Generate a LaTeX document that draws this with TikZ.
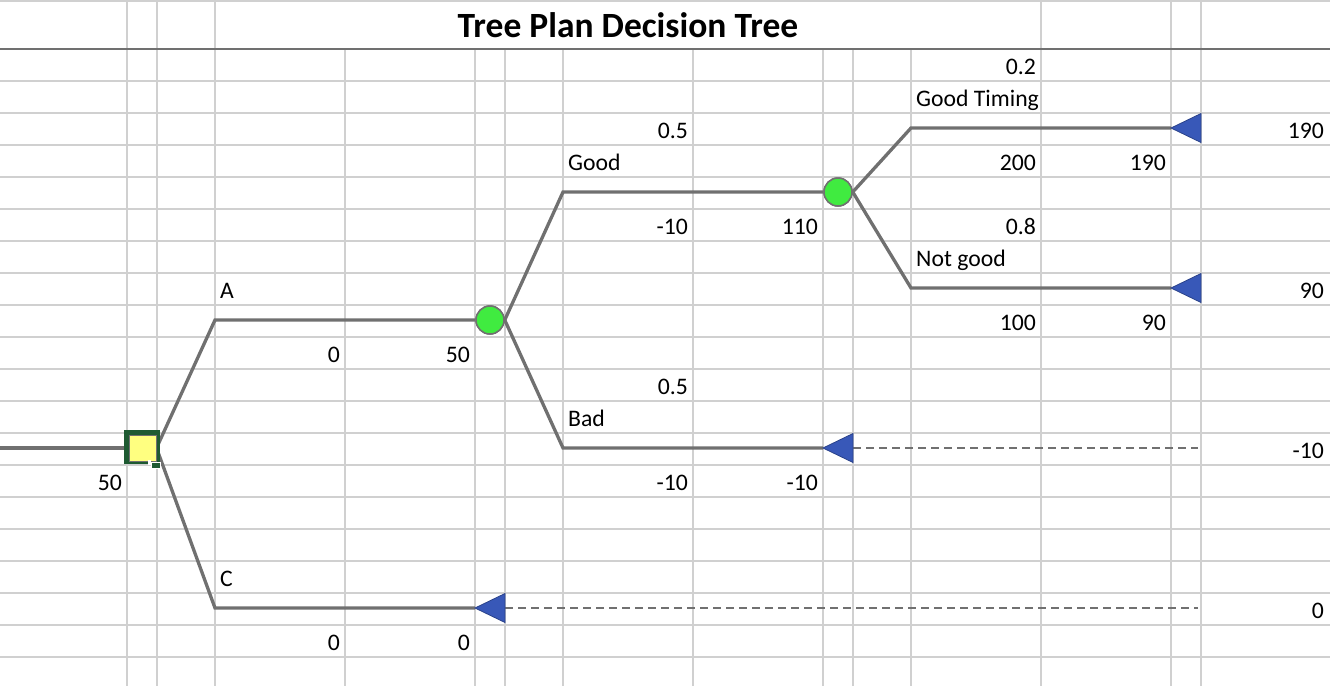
\documentclass[tikz,border=0pt]{standalone}
\usepackage{fontspec}
\setmainfont{Carlito}
\usepackage{tikz}
\definecolor{gridgray}{RGB}{208,208,208}
\definecolor{branchgray}{RGB}{112,112,112}
\definecolor{chancegreen}{RGB}{64,235,64}
\definecolor{termblue}{RGB}{56,88,184}
\definecolor{selgreen}{RGB}{30,90,50}
\definecolor{decyellow}{RGB}{255,255,128}
\tikzstyle{grid line}=[gridgray, line width=1.2pt]
\tikzstyle{title rule}=[branchgray, line width=2pt]
\tikzstyle{branch}=[branchgray, line width=3.3pt]
\tikzstyle{cutoff}=[branchgray, line width=1.8pt, dash pattern=on 8pt off 5pt]
\tikzstyle{chance}=[circle, draw=branchgray, line width=1.5pt, fill=chancegreen, minimum size=28pt, inner sep=0pt]
\tikzstyle{decision}=[rectangle, draw=branchgray, line width=1pt, fill=decyellow, minimum width=27pt, minimum height=26pt, inner sep=0pt]
\tikzstyle{terminal}=[fill=termblue, draw=termblue!75!black, line width=0.8pt]
\tikzstyle{num}=[font=\fontsize{23.7}{28}\selectfont, inner sep=0pt, anchor=base east]
\tikzstyle{lbl}=[font=\fontsize{23.7}{28}\selectfont, inner sep=0pt, anchor=base west]

\begin{document}
\begin{tikzpicture}[x=1pt, y=-1pt]
        \useasboundingbox (0,0) rectangle (1330,686);
        % sheet grid
        \draw[grid line] (0,1) -- (1330,1);
        \foreach \y in {81,113,...,657} \draw[grid line] (0,\y) -- (1330,\y);
        \foreach \x in {345,475,505,563,693,823,853,911} \draw[grid line] (\x,49) -- (\x,686);
        \foreach \x in {127,157,215,1041,1171,1201} \draw[grid line] (\x,1) -- (\x,686);
        \draw[title rule] (0,49) -- (1330,49);
        \node[font=\fontsize{35.5}{40}\selectfont\bfseries, anchor=base, inner sep=0pt] (title) at (628,37) {Tree Plan Decision Tree};

        % nodes of the tree
        \node[decision] (dec) at (142.5,448) {};
        \node[chance] (ch1) at (490,320) {};
        \node[chance] (ch2) at (838,192) {};
        \coordinate (entry) at (0,448);
        \coordinate (A) at (215,320);
        \coordinate (C) at (215,608);
        \coordinate (good) at (563,192);
        \coordinate (bad) at (563,448);
        \coordinate (goodtiming) at (911,128);
        \coordinate (notgood) at (911,288);
        \coordinate (tgt) at (1171,128);
        \coordinate (tng) at (1171,288);
        \coordinate (tbad) at (823,448);
        \coordinate (tC) at (475,608);
        \coordinate (tbadback) at (853,448);
        \coordinate (tCback) at (505,608);
        \coordinate (endbad) at (1198,448);
        \coordinate (endC) at (1198,608);

        % branches
        \draw[branch] (entry) -- (dec.west);
        \draw[branch] (dec.east) -- (A) -- (ch1.west);
        \draw[branch] (dec.east) -- (C) -- (tC);
        \draw[branch] (ch1.east) -- (good) -- (ch2.west);
        \draw[branch] (ch1.east) -- (bad) -- (tbad);
        \draw[branch] (ch2.east) -- (goodtiming) -- (tgt);
        \draw[branch] (ch2.east) -- (notgood) -- (tng);
        \draw[cutoff] (tbadback) -- (endbad);
        \draw[cutoff] (tCback) -- (endC);
        \node[chance] at (ch1) {};
        \node[chance] at (ch2) {};

        % end points
        \filldraw[terminal] (tgt) -- ++(30,-14.5) -- ++(0,29) -- cycle;
        \filldraw[terminal] (tng) -- ++(30,-14.5) -- ++(0,29) -- cycle;
        \filldraw[terminal] (tbad) -- ++(30,-14.5) -- ++(0,29) -- cycle;
        \filldraw[terminal] (tC) -- ++(30,-14.5) -- ++(0,29) -- cycle;

        % selected cell
        \draw[selgreen, line width=5pt] (126.5,432.5) rectangle (157.5,461.5);
        \node[decision] at (dec) {};
        \fill[white] (147.5,459.5) rectangle (151,464.5);
        \filldraw[selgreen, draw=white, line width=1pt] (151,462) rectangle (160.5,468.5);

        % probabilities, labels and values
        \node[num] (pgt) at (1036,74.5) {0.2};
        \node[lbl] (lgt) at (916,106.5) {Good Timing};
        \node[num] (pgood) at (688,138.5) {0.5};
        \node[num] (vgt) at (1324,138.5) {190};
        \node[lbl] (lgood) at (568,170.5) {Good};
        \node[num] (cgt) at (1036,170.5) {200};
        \node[num] (egt) at (1166,170.5) {190};
        \node[num] (cgood) at (688,234.5) {-10};
        \node[num] (egood) at (818,234.5) {110};
        \node[num] (png) at (1036,234.5) {0.8};
        \node[lbl] (lng) at (916,266.5) {Not good};
        \node[lbl] (lA) at (220,298.5) {A};
        \node[num] (vng) at (1324,298.5) {90};
        \node[num] (cng) at (1036,330.5) {100};
        \node[num] (eng) at (1166,330.5) {90};
        \node[num] (cA) at (340,362.5) {0};
        \node[num] (eA) at (470,362.5) {50};
        \node[num] (pbad) at (688,394.5) {0.5};
        \node[lbl] (lbad) at (568,426.5) {Bad};
        \node[num] (vbad) at (1324,458.5) {-10};
        \node[num] (edec) at (122,490.5) {50};
        \node[num] (cbad) at (688,490.5) {-10};
        \node[num] (ebad) at (818,490.5) {-10};
        \node[lbl] (lC) at (220,586.5) {C};
        \node[num] (vC) at (1324,618.5) {0};
        \node[num] (cC) at (340,650.5) {0};
        \node[num] (eC) at (470,650.5) {0};
    \end{tikzpicture}
\end{document}
